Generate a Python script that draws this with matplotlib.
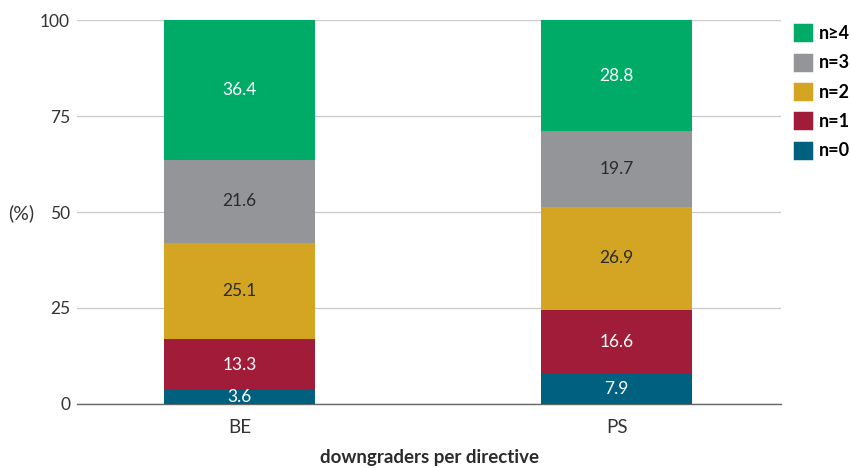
import matplotlib
matplotlib.use("Agg")
import matplotlib.pyplot as plt
from matplotlib.patches import Patch

plt.rcParams['font.family'] = ['Lato', 'DejaVu Sans']

# share of directives by number of downgraders (%)
groups = ["BE", "PS"]
levels = ["n=0", "n=1", "n=2", "n=3", "n\u22654"]
n0 = [3.6, 7.9]
n1 = [13.3, 16.6]
n2 = [25.1, 26.9]
n3 = [21.6, 19.7]
n4 = [36.4, 28.8]
series = [n0, n1, n2, n3, n4]

colors = ["#00607f", "#a01c38", "#d4a423", "#939598", "#00ab67"]
text_colors = ["white", "white", "#2b2b2b", "#2b2b2b", "white"]

fig = plt.figure(figsize=(8.51, 4.68), dpi=100)
ax = fig.add_axes([77/851, 1 - 404/468, (781 - 77)/851, (404 - 20)/468])

x = [0, 1]
bottom = [0, 0]
for vals, col, tc in zip(series, colors, text_colors):
    bars = ax.bar(x, vals, 0.4, bottom=bottom, color=col, zorder=3)
    for b, v, y0 in zip(bars, vals, bottom):
        ax.text(b.get_x() + b.get_width()/2, y0 + v/2, f"{v:.1f}",
                ha="center", va="center", color=tc, fontsize=12.5, zorder=4)
    bottom = [a + v for a, v in zip(bottom, vals)]

ax.set_xlim(-0.43, 1.435)
ax.set_ylim(0, 100)
ax.set_yticks([0, 25, 50, 75, 100])
ax.set_xticks(x)
ax.set_xticklabels(groups)
ax.yaxis.grid(True, color="#cccccc", linewidth=1, zorder=0)
for s in ["top", "right", "left"]:
    ax.spines[s].set_visible(False)
ax.spines["bottom"].set_color("#666666")
ax.spines["bottom"].set_linewidth(1)
ax.tick_params(axis="y", length=0, labelsize=12.5, colors="#333333", pad=5)
ax.tick_params(axis="x", length=0, labelsize=13.5, colors="#333333", pad=11)

ax.set_xlabel("downgraders per directive", fontsize=13.5, fontweight="bold",
              color="#2b2b2b", labelpad=9)
fig.text(8/851, 1 - 213/468, "(%)", fontsize=14, color="#333333",
         ha="left", va="center")

# legend: rounded swatches, highest level on top
handles = [Patch(facecolor=c, edgecolor=c, linewidth=2.5, joinstyle="round")
           for c in colors][::-1]
fig.legend(handles, levels[::-1], loc="upper left",
           bbox_to_anchor=(788/851, 1 - 18/468), frameon=False,
           handlelength=0.9, handleheight=0.9, handletextpad=0.4,
           labelspacing=0.68, borderaxespad=0,
           prop={"weight": "bold", "size": 13})

fig.savefig("out.png", dpi=100)
